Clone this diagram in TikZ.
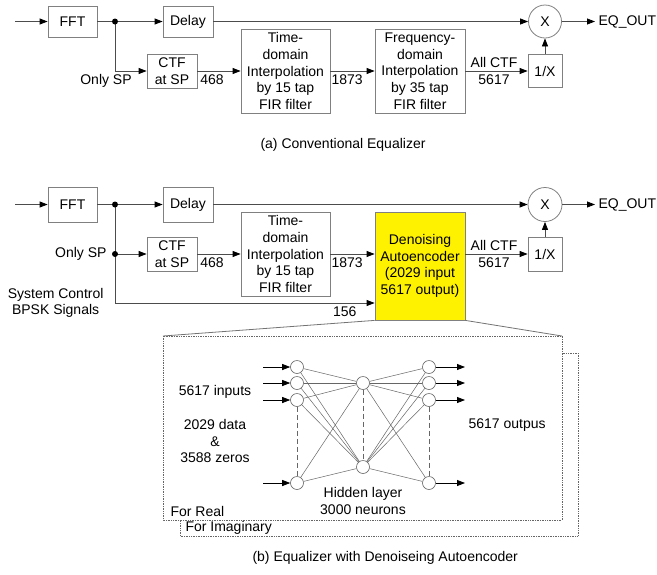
\documentclass[tikz,border=0pt]{standalone}
\usepackage{fontspec}
\setmainfont{Liberation Sans}
\usetikzlibrary{arrows.meta,positioning}

\begin{document}
\begin{tikzpicture}[
    x=1pt, y=-1pt,
    font=\fontsize{14}{16.7}\selectfont,
    block/.style={draw=black!50, line width=0.8pt, align=center, inner sep=1pt},
    wire/.style={draw=black!70, line width=0.8pt},
    sig/.style={wire, -{Triangle[length=8pt,width=6pt,color=black]}},
    dot/.style={circle, fill=black, inner sep=0pt, minimum size=6pt},
    neuron/.style={circle, draw=black!60, line width=0.6pt, fill=white, minimum size=13pt, inner sep=0pt},
    edge/.style={draw=black!60, line width=0.5pt},
    dashline/.style={draw=black!60, line width=0.8pt, dash pattern=on 5pt off 3pt},
    zoombox/.style={draw=black!60, densely dotted, line width=0.7pt}
]
\useasboundingbox (0,0) rectangle (657,574);

% (a) conventional equalizer
\coordinate (inA) at (15,21.5);
\node[block, minimum width=49pt, minimum height=31pt] (fftA) at (72.5,21.5) {FFT};
\coordinate (jA) at (115,21.5);
\node[block, minimum width=50pt, minimum height=31pt] (dlyA) at (188,21.5) {Delay};
\node[block, circle, minimum size=33pt, inner sep=0pt] (mulA) at (545,21.5) {X};
\node[anchor=west] (outA) at (595,21.5) {EQ\_OUT};
\coordinate (spA) at (115,71);
\node[block, minimum width=50pt, minimum height=34pt] (ctfA) at (172,71) {CTF\\at SP};
\node[block, minimum width=89pt, minimum height=84pt] (timeA) at (285.5,71)
    {Time-\\domain\\Interpolation\\by 15 tap\\FIR filter};
\node[block, minimum width=90pt, minimum height=84pt] (freqA) at (420,71)
    {Frequency-\\domain\\Interpolation\\by 35 tap\\FIR filter};
\node[block, minimum width=34pt, minimum height=33pt] (invA) at (545,71) {1/X};
\node (onlyA) at (106,81) {Only SP};

\draw[sig] (inA) -- (fftA);
\draw[wire] (fftA) -- (jA);
\draw[sig] (jA) -- (dlyA);
\draw[sig] (dlyA) -- (mulA);
\draw[sig] (mulA) -- (outA);
\draw[sig] (jA) |- (ctfA);
\node[dot] (jdotA) at (jA) {};
\draw[sig] (ctfA) -- node[below, pos=0.34] {468} (timeA);
\draw[sig] (timeA) -- node[below, pos=0.38] {1873} (freqA);
\draw[sig] (freqA) -- node[above, pos=0.46] {All CTF}
                      node[below, pos=0.46] {5617} (invA);
\draw[sig] (invA) -- (mulA);

\node[anchor=west] (capA) at (257,145) {(a) Conventional Equalizer};

% (b) equalizer with denoising autoencoder
\coordinate (inB) at (15,204.5);
\node[block, minimum width=49pt, minimum height=35pt] (fftB) at (72.5,204.5) {FFT};
\coordinate (jB) at (115,204.5);
\node[block, minimum width=50pt, minimum height=35pt] (dlyB) at (188,204.5) {Delay};
\node[block, circle, minimum size=34pt, inner sep=0pt] (mulB) at (545,204.5) {X};
\node[anchor=west] (outB) at (595,204.5) {EQ\_OUT};
\coordinate (spB) at (115,254);
\coordinate (ctlB) at (115,303);
\node[block, minimum width=50pt, minimum height=34pt] (ctfB) at (172,254) {CTF\\at SP};
\node[block, minimum width=89pt, minimum height=84pt] (timeB) at (285.5,254)
    {Time-\\domain\\Interpolation\\by 15 tap\\FIR filter};
\node[block, fill=yellow, minimum width=90pt, minimum height=108pt] (dae) at (420,266)
    {Denoising\\Autoencoder\\(2029 input\\5617 output)};
\node[block, minimum width=34pt, minimum height=34pt] (invB) at (545,254) {1/X};
\node[left=5pt of spB] (onlyB) {Only SP};
\node[left=8pt of ctlB, align=center] (ctlname) {System Control\\BPSK Signals};

\draw[sig] (inB) -- (fftB);
\draw[wire] (fftB) -- (jB);
\draw[sig] (jB) -- (dlyB);
\draw[sig] (dlyB) -- (mulB);
\draw[sig] (mulB) -- (outB);
\draw[wire] (jB) -- (ctlB);
\draw[sig] (spB) -- (ctfB);
\node[dot] (jdotB) at (jB) {};
\node[dot] (spdotB) at (spB) {};
\draw[sig] (ctfB) -- node[below, pos=0.34] {468} (timeB);
\draw[sig] (timeB) -- node[below, pos=0.38] {1873} (timeB -| dae.west);
\draw[sig] (ctlB) -- node[below, pos=0.885] {156} (ctlB -| dae.west);
\draw[sig] (invB -| dae.east) -- node[above, pos=0.46] {All CTF}
                                 node[below, pos=0.46] {5617} (invB);
\draw[sig] (invB) -- (mulB);

% zoomed autoencoder
\coordinate (realNW) at (163,336);
\coordinate (realNE) at (562,336);
\draw[zoombox, fill=white] (180,353) rectangle (578,536);
\draw[zoombox, fill=white] (realNW) rectangle (562,520);
\draw[wire, draw=black!55] (dae.south west) -- (realNW);
\draw[wire, draw=black!55] (dae.south east) -- (realNE);

\foreach \i/\y in {1/367, 2/383, 3/400, 4/483} {
    \node[neuron] (in\i) at (297,\y) {};
    \node[neuron] (out\i) at (429,\y) {};
    \coordinate (src\i) at (263,\y);
    \coordinate (dst\i) at (465,\y);
}
\node[neuron] (hid1) at (363,383) {};
\node[neuron] (hid2) at (363,467) {};

\foreach \i in {1,...,4} {
    \foreach \j in {1,2} {
        \draw[edge] (in\i) -- (hid\j);
        \draw[edge] (hid\j) -- (out\i);
    }
    \draw[sig, draw=black] (src\i) -- (in\i);
    \draw[sig, draw=black] (out\i) -- (dst\i);
}
\draw[dashline] (in3) -- (in4);
\draw[dashline] (hid1) -- (hid2);
\draw[dashline] (out3) -- (out4);

\node (inlbl) at (215,392) {5617 inputs};
\node[align=center] (datalbl) at (215,441) {2029 data\\\&\\3588 zeros};
\node[align=center] (hidlbl) at (363,501) {Hidden layer\\3000 neurons};
\node[anchor=west] (outlbl) at (465,425) {5617 outpus};
\node[anchor=west] (reallbl) at (167,511) {For Real};
\node[anchor=west] (imaglbl) at (182,528) {For Imaginary};

\node[anchor=west] (capB) at (249,558) {(b) Equalizer with Denoiseing Autoencoder};
\end{tikzpicture}
\end{document}
